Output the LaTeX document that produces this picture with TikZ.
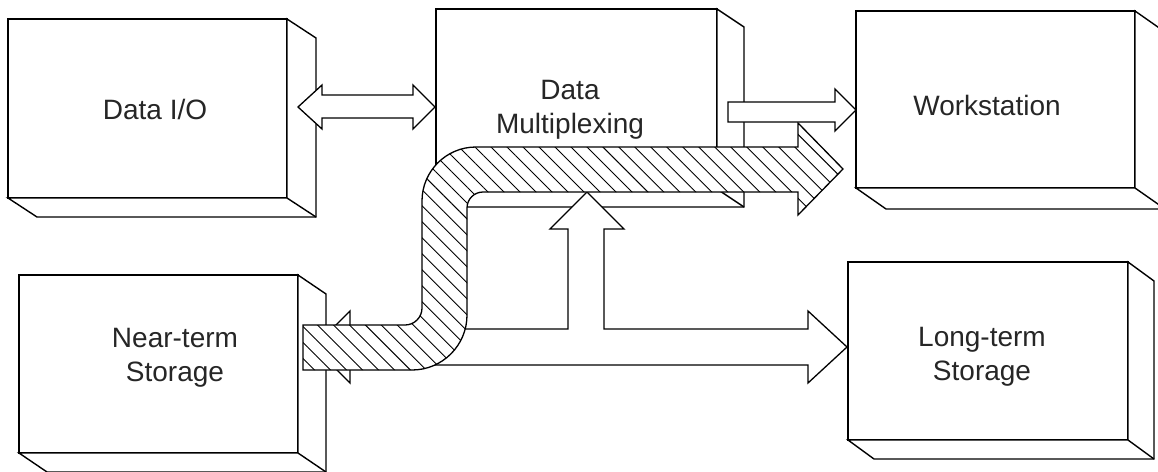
\documentclass[tikz,border=0pt]{standalone}
\usepackage{fontspec}
\setmainfont{Liberation Sans}
\usetikzlibrary{patterns.meta,calc}
\begin{document}
\begin{tikzpicture}[x=1pt,y=-1pt,
  line width=1.4pt, line join=miter,
  blk/.style={draw, fill=white, inner sep=0pt, outer sep=0pt},
  side/.style={draw, fill=white},
  lbl/.style={font=\fontsize{28}{34}\selectfont, align=center, inner sep=0pt, text=black!85},
  barrow/.style={draw, fill=white, line width=1.3pt},
  hatch/.style={preaction={fill=white}, pattern={Lines[angle=-45,distance=11.3pt,line width=0.9pt]}, draw, line width=1.3pt}
]
\useasboundingbox (0,0) rectangle (1158,471);

% boxes
\node[blk, minimum width=279pt, minimum height=179pt] (io) at (147.5,108.5) {};
\filldraw[side] (io.north east) -- ++(29,19) -- ++(0,179) -- ++(-279,0) -- (io.south west) -- (io.south east) -- cycle;
\draw (io.south east) -- ++(29,19);

\node[blk, minimum width=281pt, minimum height=180pt] (mux) at (576.5,99) {};
\filldraw[side] (mux.north east) -- ++(27,18) -- ++(0,180) -- ++(-281,0) -- (mux.south west) -- (mux.south east) -- cycle;
\draw (mux.south east) -- ++(27,18);

\node[blk, minimum width=279pt, minimum height=177pt] (ws) at (995.5,99.5) {};
\filldraw[side] (ws.north east) -- ++(30,21) -- ++(0,177) -- ++(-279,0) -- (ws.south west) -- (ws.south east) -- cycle;
\draw (ws.south east) -- ++(30,21);

\node[blk, minimum width=279pt, minimum height=178pt] (nt) at (158.5,364) {};
\filldraw[side] (nt.north east) -- ++(28,19) -- ++(0,178) -- ++(-279,0) -- (nt.south west) -- (nt.south east) -- cycle;
\draw (nt.south east) -- ++(28,19);

\node[blk, minimum width=280pt, minimum height=178pt] (lt) at (988,351) {};
\filldraw[side] (lt.north east) -- ++(26,19) -- ++(0,178) -- ++(-280,0) -- (lt.south west) -- (lt.south east) -- cycle;
\draw (lt.south east) -- ++(26,19);

% three-headed white arrow
\filldraw[barrow] (314,347) -- (350,311) -- (350,329) -- (568,329) -- (568,229) -- (550,229) -- (587,192) -- (624,229) -- (604,229) -- (604,329) -- (808,329) -- (808,311) -- (847,347) -- (808,383) -- (808,365) -- (350,365) -- (350,383) -- cycle;

% hatched arrow
\path[hatch] (303,325) -- (405,325) arc[start angle=90, end angle=0, radius=17] -- (422,201) arc[start angle=180, end angle=270, radius=54] -- (798,147) -- (798,123) -- (843,169) -- (798,215) -- (798,192) -- (483,192) arc[start angle=270, end angle=180, radius=16] -- (467,315) arc[start angle=0, end angle=90, radius=55] -- (303,370) -- cycle;

% arrow to workstation
\filldraw[barrow] (728,102) -- (835,102) -- (835,89) -- (856,110) -- (835,131) -- (835,122) -- (728,122) -- cycle;

% double arrow
\filldraw[barrow] (298,107) -- (322,85) -- (322,95) -- (413,95) -- (413,85) -- (435,107) -- (413,129) -- (413,118) -- (322,118) -- (322,129) -- cycle;

% labels
\node[lbl] (io-t) at (155,109) {Data I/O};
\node[lbl] (mux-t) at (570,110) {Data\\Multiplexing};
\node[lbl] (ws-t) at (987,105) {Workstation};
\node[lbl] (nt-t) at (175,358) {Near-term\\Storage};
\node[lbl] (lt-t) at (982,357) {Long-term\\Storage};
\end{tikzpicture}
\end{document}
